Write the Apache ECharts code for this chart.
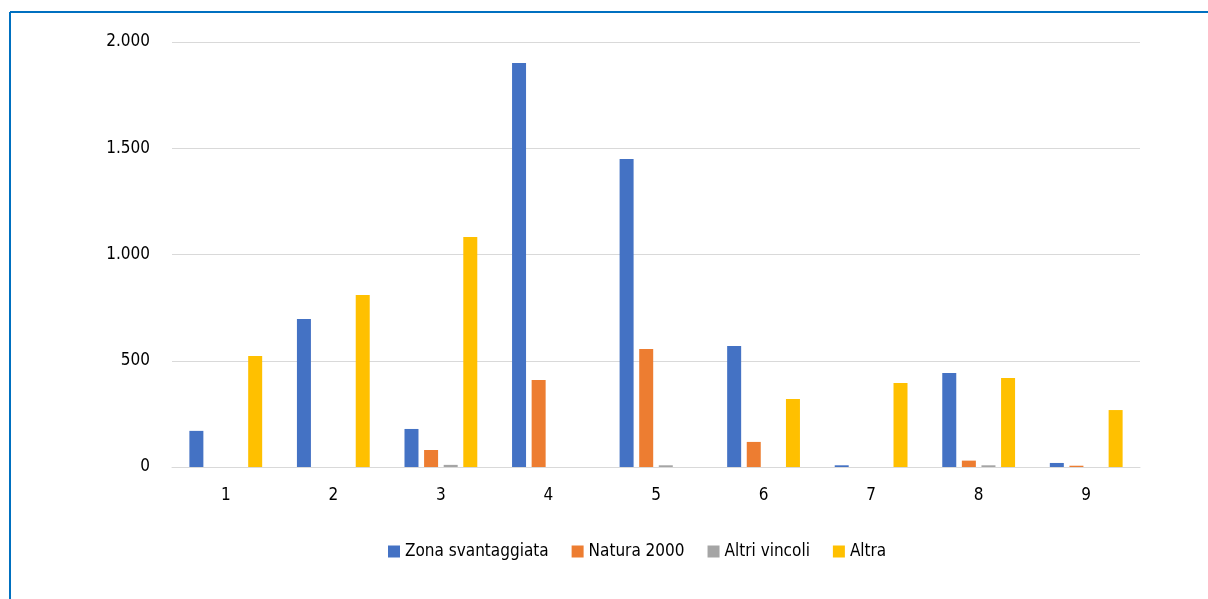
<!DOCTYPE html>
<html>
<head>
<meta charset="utf-8">
<script src="https://cdn.jsdelivr.net/npm/echarts@6/dist/echarts.min.js"></script>
<style>
    html, body { margin: 0; padding: 0; background: #fff; }
    #chart { width: 1208px; height: 599px; }
</style>
</head>
<body>
<div id="chart"></div>
<script>
const categories = ['1', '2', '3', '4', '5', '6', '7', '8', '9'];
const zonaSvantaggiata = [170, 697, 179, 1901, 1449, 569, 8, 442, 19];
const natura2000 = [0, 0, 80, 409, 555, 118, 0, 30, 6];
const altriVincoli = [0, 0, 10, 0, 8, 0, 0, 8, 0];
const altra = [522, 810, 1082, 0, 0, 320, 395, 419, 268];

const fontFamily = '"Liberation Sans Narrow", "DejaVu Sans Condensed", sans-serif';

const myChart = echarts.init(document.getElementById('chart'));

function barSeries(name, data, color) {
    return {
        name: name,
        type: 'bar',
        data: data,
        barWidth: 14,
        barGap: '40%',
        itemStyle: { color: color }
    };
}

const option = {
    animation: false,
    backgroundColor: '#fff',
    textStyle: { fontFamily: fontFamily },
    graphic: [
        // bordo del riquadro
        {
            type: 'line',
            shape: { x1: 10, y1: 12, x2: 1208, y2: 12 },
            style: { stroke: '#0070C0', lineWidth: 2 }
        },
        {
            type: 'line',
            shape: { x1: 10, y1: 12, x2: 10, y2: 599 },
            style: { stroke: '#0070C0', lineWidth: 2 }
        }
    ],
    grid: {
        left: 172,
        right: 68,
        top: 42,
        bottom: 132
    },
    legend: {
        bottom: 34,
        left: 383,
        itemWidth: 12,
        itemHeight: 12,
        itemGap: 23,
        icon: 'rect',
        textStyle: { fontSize: 17, color: '#000', fontFamily: fontFamily }
    },
    xAxis: {
        type: 'category',
        data: categories,
        axisLine: { lineStyle: { color: '#d9d9d9' } },
        axisTick: { show: false },
        axisLabel: { fontSize: 17, color: '#000', margin: 20 }
    },
    yAxis: {
        type: 'value',
        min: 0,
        max: 2000,
        interval: 500,
        axisLine: { show: false },
        axisTick: { show: false },
        splitLine: { lineStyle: { color: '#d9d9d9' } },
        axisLabel: {
            fontSize: 17,
            color: '#000',
            margin: 22,
            formatter: function (v) {
                return v >= 1000 ? Math.floor(v / 1000) + '.' + String(v % 1000).padStart(3, '0') : String(v);
            }
        }
    },
    series: [
        barSeries('Zona svantaggiata', zonaSvantaggiata, '#4472C4'),
        barSeries('Natura 2000', natura2000, '#ED7D31'),
        barSeries('Altri vincoli', altriVincoli, '#A5A5A5'),
        barSeries('Altra', altra, '#FFC000')
    ]
};

myChart.setOption(option);
</script>
</body>
</html>
